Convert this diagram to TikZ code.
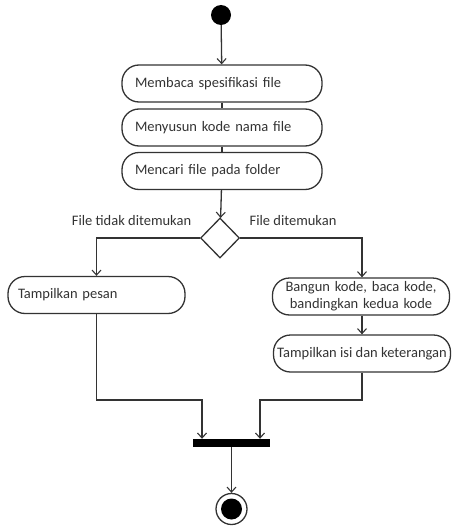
\documentclass[tikz,border=0pt]{standalone}
\usepackage{fontspec}
\setmainfont{Carlito}
\usepackage{tikz}
\usetikzlibrary{shapes.geometric}
\usetikzlibrary{arrows.meta}
\usetikzlibrary{calc}
\tikzset{action/.style={rectangle, draw=black!80, line width=1.3pt, rounded corners=17pt, minimum height=37pt, inner ysep=2pt, text=black!80, font=\fontsize{14.5}{17}\selectfont}}
\tikzset{flow/.style={draw=black!80, line width=1.3pt, -{Straight Barb[length=5pt,width=9pt,line width=1.1pt]}}}

\begin{document}
\begin{tikzpicture}[x=1pt,y=-1pt]
  \useasboundingbox (0,0) rectangle (453,527);
  \node[circle, fill=black, minimum size=20pt, inner sep=0pt] (start) at (221,15) {};
  \foreach \y/\lab/\name in {
    83.5/a1/Membaca spesifikasi file,
    127.5/a2/Menyusun kode nama file,
    171/a3/Mencari file pada folder%
  } {
    \node[action, text width=174pt, inner xsep=13pt, align=left] (\lab) at (222, \y) {\name};
  }
  \node[diamond, draw=black!80, line width=1.3pt, minimum width=39pt, minimum height=40pt, inner sep=0pt] (dec) at (220,238) {};
  \node[text=black!80, font=\fontsize{14.5}{17}\selectfont] (nolab) at (131.5,221) {File tidak ditemukan};
  \node[text=black!80, font=\fontsize{14.5}{17}\selectfont] (yeslab) at (293,221) {File ditemukan};
  \node[action, text width=157pt, inner xsep=10pt, align=left] (msg) at (96.5,295) {Tampilkan pesan};
  \node[action, text width=169pt, inner xsep=4pt, align=center] (build) at (361,296.5) {Bangun kode, baca kode,\\ bandingkan kedua kode};
  \node[action, minimum width=177pt, inner xsep=1pt] (show) at (362,353.5) {Tampilkan isi dan keterangan};
  \node[rectangle, fill=black, minimum width=77pt, minimum height=8pt, inner sep=0pt] (bar) at (231.5,443) {};
  \node[circle, draw=black!80, line width=1.3pt, minimum size=31pt, inner sep=0pt] (end) at (231.5,509) {};
  \node[circle, fill=black, minimum size=21pt, inner sep=0pt] (endin) at (end.center) {};
  \coordinate (m1) at (202,400);
  \coordinate (m2) at (260,400);

  \draw[flow] (start) -- (a1);
  \draw[draw=black!80, line width=1.3pt] (a1) -- (a2);
  \draw[draw=black!80, line width=1.3pt] (a2) -- (a3);
  \draw[flow] (a3) -- (dec);
  \draw[flow] (dec.west) -| (msg.north);
  \draw[flow] (dec.east) -| (build.north -| show.south);
  \draw[flow] (build.south -| show.south) -- (show.north);
  \draw[flow] (msg.south) |- (m1) -- (m1 |- bar.north);
  \draw[flow] (show.south) |- (m2) -- (m2 |- bar.north);
  \draw[flow] (bar.south) -- (end.north);
\end{tikzpicture}
\end{document}
